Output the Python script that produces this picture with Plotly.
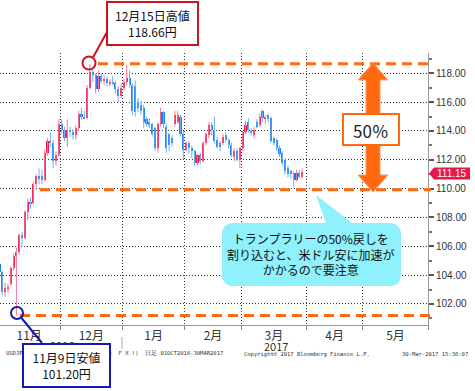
import plotly.graph_objects as go

# ---------------- data ----------------
months = ["11月", "12月", "1月", "2月", "3月", "4月", "5月"]
month_days = [22, 22, 22, 20, 23, 20, 23]  # trading days per month (axis spacing)

open_ = [104.8, 104.2, 102.8, 103.1, 103.4, 104.5, 105.3, 105.6, 106.8, 106.6, 108.4, 109.1, 109.0, 110.3,
         110.9, 110.9, 110.6, 112.5, 113.3, 113.2, 111.9, 112.3,
         114.5, 114.1, 113.5, 114.1, 113.9, 113.7, 114.2, 115.2, 115.0, 114.9, 117.0, 118.1, 117.9, 116.9,
         117.8, 117.5, 117.6, 117.3, 117.4, 117.3, 116.9, 116.4,
         117.0, 117.4, 117.7, 117.2, 117.1, 116.0, 115.8, 115.6, 114.8, 114.6, 114.5, 114.2, 112.8, 114.5,
         115.3, 114.3, 113.8, 113.5, 114.5, 114.6, 115.0, 113.8,
         112.7, 113.2, 112.8, 112.6, 111.8, 112.3, 111.9, 113.2, 113.7, 114.4, 114.1, 113.4, 113.2, 113.2,
         113.7, 113.4, 113.0, 112.2, 112.6, 112.0,
         112.8, 113.9, 114.6, 114.0, 113.7, 114.6, 114.4, 115.4, 114.8, 115.1, 114.9, 113.5, 113.4, 112.8,
         112.5, 112.0, 111.4, 111.2, 111.1, 110.6, 111.1, 110.8]
high = [104.9, 104.3, 103.5, 103.4, 104.6, 105.5, 105.9, 106.9, 107.0, 108.5, 109.3, 109.4, 110.5, 111.0,
        111.4, 111.3, 112.7, 113.5, 113.9, 113.4, 112.6, 114.8,
        114.8, 114.3, 114.8, 114.3, 114.1, 114.4, 115.4, 115.6, 115.4, 117.2, 118.66, 118.4, 118.0, 118.2,
        118.0, 117.9, 117.8, 117.6, 117.8, 117.5, 117.1, 117.3,
        117.6, 118.6, 118.2, 117.3, 117.5, 116.3, 116.1, 115.8, 115.0, 114.9, 114.6, 114.3, 114.6, 115.6,
        115.4, 114.5, 113.9, 113.7, 115.4, 115.4, 115.1, 114.0,
        113.3, 113.3, 113.0, 112.7, 112.4, 112.5, 113.3, 113.9, 114.6, 114.6, 115.0, 113.6, 113.3, 113.8,
        113.9, 113.5, 113.2, 112.8, 112.8, 112.9,
        114.0, 114.7, 114.9, 114.2, 114.3, 114.8, 115.2, 115.5, 115.1, 115.2, 115.0, 113.6, 113.5, 113.0,
        112.6, 112.1, 111.6, 111.3, 111.2, 111.3, 111.3, 111.4]
low = [104.0, 102.6, 102.5, 102.8, 103.3, 104.3, 101.2, 105.4, 106.0, 106.5, 107.8, 108.6, 108.9, 109.9,
       110.3, 110.3, 110.5, 112.3, 112.9, 111.4, 111.6, 112.2,
       113.8, 113.3, 112.9, 113.6, 113.4, 113.4, 114.0, 114.8, 114.8, 114.8, 116.9, 117.4, 116.6, 116.7,
       117.3, 117.2, 117.1, 117.1, 117.2, 116.6, 116.0, 116.3,
       116.8, 117.2, 117.0, 115.1, 115.0, 115.3, 115.1, 114.2, 114.3, 114.2, 113.6, 112.6, 112.5, 114.3,
       114.2, 112.5, 112.6, 112.9, 114.3, 114.5, 113.6, 112.1,
       112.6, 112.4, 112.1, 111.6, 111.6, 111.7, 111.8, 113.0, 113.5, 113.7, 113.1, 112.8, 112.6, 113.0,
       113.2, 112.8, 112.2, 111.9, 111.9, 111.4,
       112.6, 113.8, 113.9, 113.7, 113.5, 114.2, 114.3, 114.6, 114.5, 114.6, 113.2, 113.0, 112.6, 112.2,
       111.6, 111.0, 110.8, 110.7, 110.1, 110.5, 110.7, 110.7]
close = [104.2, 102.8, 103.1, 103.2, 104.5, 105.3, 105.6, 106.8, 106.6, 108.4, 109.1, 109.0, 110.3, 110.9,
         110.7, 110.6, 112.5, 113.3, 113.2, 111.9, 112.3, 114.5,
         114.1, 113.5, 114.1, 113.9, 113.7, 114.2, 115.2, 115.0, 114.9, 117.0, 118.1, 117.9, 116.9, 117.8,
         117.5, 117.6, 117.3, 117.4, 117.3, 116.9, 116.4, 117.0,
         117.4, 117.7, 117.2, 115.4, 115.3, 115.6, 115.4, 114.6, 114.5, 114.4, 113.8, 112.8, 114.5, 115.3,
         114.5, 112.8, 113.0, 113.2, 115.1, 115.1, 113.8, 112.7,
         113.2, 112.8, 112.6, 111.8, 112.3, 111.9, 113.2, 113.8, 114.4, 114.1, 113.3, 112.9, 112.9, 113.6,
         113.4, 113.0, 112.3, 112.6, 112.0, 112.8,
         113.9, 114.4, 114.1, 113.9, 114.1, 114.3, 115.0, 114.9, 115.0, 114.8, 113.3, 113.2, 112.8, 112.4,
         111.8, 111.2, 111.0, 111.0, 110.6, 111.1, 110.8, 111.15]

peak_high = 118.66   # 12月15日高値
trough_low = 101.20  # 11月9日安値
yticks = [102, 104, 106, 108, 110, 112, 114, 116, 118]
minor_yticks = [101, 103, 105, 107, 109, 111, 113, 115, 117, 119]

# ---------------- derived positions ----------------
bounds = [0]
for d in month_days:
    bounds.append(bounds[-1] + d)
mids = [(bounds[i] + bounds[i + 1]) / 2 for i in range(len(months))]
xs = [i + 0.5 for i in range(len(close))]

UP, DOWN = "#f51c4c", "#1a7ff0"
UPW, DOWNW = "#f4789a", "#70b0f6"

up_idx = [i for i in range(len(close)) if close[i] >= open_[i]]
dn_idx = [i for i in range(len(close)) if close[i] < open_[i]]


def wick(idx):
    wx, wy = [], []
    for i in idx:
        wx += [xs[i], xs[i], None]
        wy += [low[i], high[i], None]
    return wx, wy


fig = go.Figure()
for idx, bc, wc in [(up_idx, UP, UPW), (dn_idx, DOWN, DOWNW)]:
    wx, wy = wick(idx)
    fig.add_trace(go.Scatter(x=wx, y=wy, mode="lines", line=dict(color=wc, width=1),
                             hoverinfo="skip", showlegend=False))
    fig.add_trace(go.Bar(x=[xs[i] for i in idx],
                         base=[min(open_[i], close[i]) for i in idx],
                         y=[max(abs(close[i] - open_[i]), 0.07) for i in idx],
                         width=0.75, marker=dict(color=bc, line=dict(width=0)),
                         showlegend=False))

# ---------------- pixel helpers for decorations ----------------
PL, PR, PT, PB = 0, 428, 53, 325


def X(px):
    return (px - PL) / (PR - PL)


def Y(py):
    return (PB - py) / (PB - PT)


def P(pts):
    s = ""
    for k, (a, b) in enumerate(pts):
        s += ("M" if k == 0 else "L") + f"{X(a):.5f},{Y(b):.5f} "
    return s + "Z"


ORANGE = "#ff6a10"
shapes = []
mid = (peak_high + trough_low) / 2
for yv, xstart in [(peak_high, 98), (mid, 40), (trough_low, 20)]:
    shapes.append(dict(type="line", xref="paper", yref="y", x0=X(xstart), x1=X(431), y0=yv, y1=yv,
                       line=dict(color=ORANGE, width=3, dash="10px,6px")))

# double arrow
shapes.append(dict(type="path", xref="paper", yref="paper", fillcolor=ORANGE, line=dict(color="#ff9a60", width=1),
                   path=P([(373, 63), (388, 80), (380, 80), (380, 114), (366, 114), (366, 80), (358, 80)])))
shapes.append(dict(type="path", xref="paper", yref="paper", fillcolor=ORANGE, line=dict(color="#ff9a60", width=1),
                   path=P([(366, 145), (380, 145), (380, 175), (388, 175), (373, 192), (358, 175), (366, 175)])))
shapes.append(dict(type="rect", xref="paper", yref="paper", x0=X(343), x1=X(399), y0=Y(145), y1=Y(114),
                   fillcolor="white", line=dict(color=ORANGE, width=2)))

# cyan callout
L_, T_, R_, B_, r = 222, 223, 401, 286, 12
cp = (f"M{X(L_ + r):.5f},{Y(T_):.5f} L{X(326):.5f},{Y(T_):.5f} L{X(316):.5f},{Y(195):.5f} "
      f"L{X(352):.5f},{Y(T_):.5f} L{X(R_ - r):.5f},{Y(T_):.5f} Q{X(R_):.5f},{Y(T_):.5f} {X(R_):.5f},{Y(T_ + r):.5f} "
      f"L{X(R_):.5f},{Y(B_ - r):.5f} Q{X(R_):.5f},{Y(B_):.5f} {X(R_ - r):.5f},{Y(B_):.5f} "
      f"L{X(L_ + r):.5f},{Y(B_):.5f} Q{X(L_):.5f},{Y(B_):.5f} {X(L_):.5f},{Y(B_ - r):.5f} "
      f"L{X(L_):.5f},{Y(T_ + r):.5f} Q{X(L_):.5f},{Y(T_):.5f} {X(L_ + r):.5f},{Y(T_):.5f} Z")
shapes.append(dict(type="path", xref="paper", yref="paper", path=cp, fillcolor="#8ef1fb", line=dict(width=0)))

# red high marker
RED = "#d2101e"
shapes.append(dict(type="circle", xref="paper", yref="paper", x0=X(82.5), x1=X(95.5), y0=Y(69.5), y1=Y(56.5),
                   line=dict(color=RED, width=2)))
shapes.append(dict(type="line", xref="paper", yref="paper", x0=X(93), y0=Y(57.5), x1=X(107), y1=Y(32),
                   line=dict(color=RED, width=2)))
shapes.append(dict(type="rect", xref="paper", yref="paper", x0=X(107), x1=X(198), y0=Y(45), y1=Y(2),
                   fillcolor="white", line=dict(color=RED, width=2)))

# blue low marker
BLUE = "#1418b4"
shapes.append(dict(type="circle", xref="paper", yref="paper", x0=X(11), x1=X(23), y0=Y(319), y1=Y(307),
                   line=dict(color=BLUE, width=2)))
shapes.append(dict(type="line", xref="paper", yref="paper", x0=X(21.5), y0=Y(318), x1=X(42), y1=Y(343),
                   line=dict(color=BLUE, width=2)))

# year separator tick
shapes.append(dict(type="line", xref="paper", yref="paper", x0=X(122), x1=X(122), y0=Y(337), y1=Y(349),
                   line=dict(color="#aaaaaa", width=1)))

# price tag
shapes.append(dict(type="path", xref="paper", yref="paper", fillcolor="#e8174a", line=dict(width=0),
                   path=P([(429, 173.5), (434, 167.5), (470, 167.5), (470, 179.5), (434, 179.5)])))

JP = "Noto Sans CJK JP"
ann = []


def txt(text, px, py, size=12, color="#111", family=JP, xanchor="center"):
    ann.append(dict(text=text, x=X(px), y=Y(py), xref="paper", yref="paper", showarrow=False,
                    xanchor=xanchor, yanchor="middle", font=dict(size=size, color=color, family=family)))


txt("12月15日高値<br>" + f"{peak_high:.2f}円", 152.5, 24, 12)
txt("50％", 371, 130, 17, "#222")
txt("トランプラリーの50%戻しを<br>割り込むと、米ドル安に加速が<br>かかるので要注意", 311, 254, 12)
txt(f"{close[-1]:.2f}", 452, 173.5, 10, "white", "Liberation Sans")
txt("2016", 62, 345, 11, "#333")
txt("2017", 276, 346, 11, "#333")
txt("USDJPY Curncy (Japanese Yen Spot  F X !)  日足 01OCT2016-30MAR2017", 4, 353, 5.5, "#333", "DejaVu Sans Mono", "left")
txt("Copyright© 2017 Bloomberg Finance L.P.", 307, 354, 5.5, "#333", "DejaVu Sans Mono")
txt("30-Mar-2017 15:36:07", 470, 354, 5.5, "#333", "DejaVu Sans Mono", "right")

fig.update_layout(shapes=shapes)

# blue box drawn as annotation (on top of footer text)
ann.append(dict(text="11月9日安値<br>" + f"{trough_low:.2f}円", x=X(66.5), y=Y(365.5), xref="paper", yref="paper",
                showarrow=False, xanchor="center", yanchor="middle", width=85, height=41,
                bgcolor="white", bordercolor=BLUE, borderwidth=2, borderpad=0,
                font=dict(size=12, color="#111", family=JP)))

fig.update_layout(
    width=475, height=391, autosize=False,
    margin=dict(l=PL, r=475 - PR, t=PT, b=391 - PB, pad=0),
    paper_bgcolor="white", plot_bgcolor="white",
    barmode="overlay", bargap=0, showlegend=False,
    annotations=ann,
    xaxis=dict(range=[0.7, bounds[-1]], tickmode="array", tickvals=mids, ticktext=months,
               ticks="", showgrid=False, zeroline=False, showline=True, linecolor="#999", linewidth=1,
               tickfont=dict(size=12, color="#333", family=JP), automargin=False,
               minor=dict(tickmode="array", tickvals=bounds[1:], showgrid=True, gridcolor="#333",
                          griddash="1px,2px", gridwidth=1, ticks="outside", ticklen=4, tickcolor="#888")),
    yaxis=dict(side="right", range=[100.54, 119.41], tickmode="array", tickvals=yticks,
               ticktext=[f"{v:.2f}" for v in yticks], showgrid=True, gridcolor="#333", griddash="1px,2px",
               gridwidth=1, zeroline=False, showline=True, linecolor="#999", linewidth=1,
               ticks="outside", ticklen=5, tickwidth=2, tickcolor="#555", automargin=False,
               tickfont=dict(size=10, color="#333", family="Liberation Sans"),
               minor=dict(tickmode="array", tickvals=minor_yticks, ticks="outside", ticklen=3,
                          tickcolor="#777", showgrid=False)),
)

fig.write_html("out.html", config={"displayModeBar": False},
               post_script="document.body.style.margin='0';document.body.style.padding='0';")
